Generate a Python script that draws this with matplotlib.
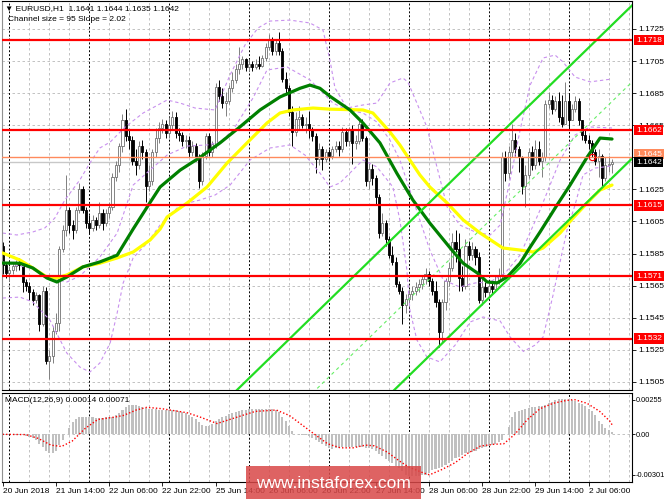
import matplotlib.pyplot as plt
import numpy as np
from matplotlib.patches import Rectangle

plt.rcParams['font.family'] = ['Liberation Sans', 'DejaVu Sans']

# EURUSD H1, 20 Jun 2018 22:00 .. 2 Jul 2018 13:00 (open = previous close)
first_open = 1.1590
close = [
    1.1578, 1.1573, 1.1575, 1.1577, 1.1579, 1.1578, 1.1567, 1.1565, 1.1561, 1.1556,
    1.1559, 1.1541, 1.1562, 1.1518, 1.1521, 1.1537, 1.1542, 1.1588, 1.1600, 1.1612,
    1.1603, 1.1600, 1.1612, 1.1625, 1.1612, 1.1604, 1.1601, 1.1606, 1.1603, 1.1610,
    1.1604, 1.1610, 1.1614, 1.1633, 1.1640, 1.1652, 1.1668, 1.1658, 1.1656, 1.1643,
    1.1640, 1.1652, 1.1648, 1.1627, 1.1630, 1.1648, 1.1657, 1.1663, 1.1666, 1.1660,
    1.1665, 1.1670, 1.1660, 1.1659, 1.1655, 1.1656, 1.1648, 1.1652, 1.1645, 1.1630,
    1.1646, 1.1658, 1.1648, 1.1653, 1.1689, 1.1683, 1.1679, 1.1680, 1.1688, 1.1693,
    1.1700, 1.1703, 1.1706, 1.1701, 1.1703, 1.1701, 1.1703, 1.1702, 1.1707, 1.1714,
    1.1718, 1.1711, 1.1716, 1.1711, 1.1694, 1.1688, 1.1673, 1.1661, 1.1669, 1.1670,
    1.1665, 1.1666, 1.1662, 1.1658, 1.1644, 1.1650, 1.1644, 1.1648, 1.1646, 1.1650,
    1.1652, 1.1650, 1.1661, 1.1655, 1.1662, 1.1654, 1.1655, 1.1666, 1.1657, 1.1630,
    1.1638, 1.1632, 1.1620, 1.1598, 1.1604, 1.1594, 1.1584, 1.1580, 1.1566, 1.1562,
    1.1553, 1.1557, 1.1560, 1.1562, 1.1564, 1.1566, 1.1569, 1.1572, 1.1568, 1.1562,
    1.1555, 1.1536, 1.1555, 1.1568, 1.1576, 1.1592, 1.1588, 1.1570, 1.1565, 1.1590,
    1.1584, 1.1588, 1.1583, 1.1556, 1.1564, 1.1561, 1.1565, 1.1563, 1.1568, 1.1571,
    1.1645, 1.1635, 1.1648, 1.1656, 1.1650, 1.1645, 1.1627, 1.1634, 1.1648, 1.1640,
    1.1650, 1.1643, 1.1645, 1.1678, 1.1681, 1.1675, 1.1680, 1.1670, 1.1666, 1.1680,
    1.1668, 1.1675, 1.1680, 1.1668, 1.1659, 1.1656, 1.1654, 1.1648, 1.1643, 1.1646,
    1.1632, 1.1640, 1.1641, 1.1642]
high = [
    1.1592, 1.1580, 1.1577, 1.1580, 1.1581, 1.1582, 1.1580, 1.1569, 1.1567, 1.1563,
    1.1561, 1.1560, 1.1565, 1.1564, 1.1525, 1.1540, 1.1548, 1.1590, 1.1603, 1.1634,
    1.1614, 1.1606, 1.1614, 1.1629, 1.1627, 1.1614, 1.1609, 1.1609, 1.1608, 1.1617,
    1.1613, 1.1613, 1.1617, 1.1635, 1.1643, 1.1654, 1.1672, 1.1675, 1.1662, 1.1658,
    1.1650, 1.1655, 1.1656, 1.1650, 1.1640, 1.1650, 1.1663, 1.1667, 1.1669, 1.1668,
    1.1670, 1.1674, 1.1673, 1.1663, 1.1661, 1.1659, 1.1658, 1.1655, 1.1654, 1.1647,
    1.1648, 1.1660, 1.1660, 1.1655, 1.1691, 1.1693, 1.1688, 1.1686, 1.1690, 1.1698,
    1.1703, 1.1714, 1.1708, 1.1707, 1.1706, 1.1705, 1.1706, 1.1708, 1.1709, 1.1716,
    1.1722, 1.1720, 1.1718, 1.1723, 1.1713, 1.1698, 1.1690, 1.1677, 1.1673, 1.1677,
    1.1672, 1.1670, 1.1674, 1.1664, 1.1660, 1.1654, 1.1652, 1.1650, 1.1650, 1.1652,
    1.1655, 1.1655, 1.1664, 1.1663, 1.1664, 1.1665, 1.1659, 1.1668, 1.1669, 1.1658,
    1.1642, 1.1641, 1.1634, 1.1622, 1.1610, 1.1606, 1.1596, 1.1590, 1.1583, 1.1568,
    1.1564, 1.1560, 1.1563, 1.1565, 1.1567, 1.1569, 1.1571, 1.1576, 1.1574, 1.1570,
    1.1568, 1.1557, 1.1557, 1.1570, 1.1580, 1.1598, 1.1600, 1.1598, 1.1577, 1.1594,
    1.1593, 1.1592, 1.1590, 1.1586, 1.1570, 1.1567, 1.1567, 1.1568, 1.1571, 1.1576,
    1.1648, 1.1649, 1.1652, 1.1666, 1.1660, 1.1652, 1.1646, 1.1640, 1.1651, 1.1652,
    1.1656, 1.1655, 1.1648, 1.1681, 1.1686, 1.1684, 1.1683, 1.1686, 1.1684, 1.1692,
    1.1685, 1.1678, 1.1683, 1.1682, 1.1668, 1.1662, 1.1659, 1.1656, 1.1650, 1.1650,
    1.1647, 1.1645, 1.1646, 1.1644]
low = [
    1.1572, 1.1570, 1.1568, 1.1572, 1.1574, 1.1575, 1.1561, 1.1562, 1.1556, 1.1553,
    1.1554, 1.1537, 1.1540, 1.1516, 1.1507, 1.1517, 1.1535, 1.1537, 1.1586, 1.1596,
    1.1598, 1.1594, 1.1598, 1.1610, 1.1610, 1.1601, 1.1598, 1.1599, 1.1600, 1.1601,
    1.1600, 1.1602, 1.1607, 1.1612, 1.1630, 1.1636, 1.1648, 1.1655, 1.1650, 1.1640,
    1.1634, 1.1638, 1.1644, 1.1617, 1.1624, 1.1628, 1.1645, 1.1654, 1.1660, 1.1657,
    1.1657, 1.1662, 1.1657, 1.1655, 1.1652, 1.1651, 1.1645, 1.1646, 1.1643, 1.1626,
    1.1628, 1.1644, 1.1646, 1.1645, 1.1651, 1.1680, 1.1676, 1.1671, 1.1678, 1.1686,
    1.1691, 1.1697, 1.1700, 1.1699, 1.1699, 1.1699, 1.1700, 1.1700, 1.1701, 1.1705,
    1.1712, 1.1709, 1.1709, 1.1709, 1.1692, 1.1684, 1.1671, 1.1652, 1.1658, 1.1662,
    1.1663, 1.1660, 1.1657, 1.1655, 1.1635, 1.1640, 1.1637, 1.1642, 1.1643, 1.1644,
    1.1648, 1.1646, 1.1648, 1.1652, 1.1652, 1.1641, 1.1650, 1.1653, 1.1655, 1.1627,
    1.1625, 1.1628, 1.1616, 1.1595, 1.1596, 1.1590, 1.1582, 1.1578, 1.1564, 1.1560,
    1.1541, 1.1548, 1.1552, 1.1556, 1.1559, 1.1561, 1.1563, 1.1566, 1.1565, 1.1559,
    1.1552, 1.1527, 1.1530, 1.1550, 1.1565, 1.1574, 1.1580, 1.1562, 1.1562, 1.1563,
    1.1581, 1.1581, 1.1578, 1.1554, 1.1553, 1.1558, 1.1558, 1.1560, 1.1561, 1.1566,
    1.1569, 1.1630, 1.1632, 1.1645, 1.1646, 1.1636, 1.1622, 1.1614, 1.1632, 1.1637,
    1.1638, 1.1640, 1.1633, 1.1643, 1.1676, 1.1672, 1.1674, 1.1667, 1.1664, 1.1666,
    1.1662, 1.1668, 1.1673, 1.1665, 1.1656, 1.1654, 1.1650, 1.1645, 1.1640, 1.1633,
    1.1627, 1.1630, 1.1636, 1.1635]

# MACD(12,26,9) histogram, in units of 1e-5
macd_hist_e5 = [
    -2, -2, -1, -1, -2, -3, -5, -10, -18, -30,
    -45, -70, -95, -125, -140, -142, -120, -80, -40, 0,
    50, 90, 115, 128, 130, 128, 126, 125, 124, 124,
    123, 125, 127, 130, 140, 160, 180, 205, 215, 218,
    216, 212, 205, 195, 190, 186, 184, 183, 182, 180,
    180, 181, 180, 176, 168, 155, 140, 125, 110, 90,
    70, 62, 65, 80, 100, 115, 128, 138, 148, 156,
    165, 172, 178, 182, 184, 185, 185, 186, 186, 186,
    185, 184, 180, 165, 130, 100, 60, 25, 5, -2,
    -5, -8, -15, -25, -40, -55, -75, -90, -100, -106,
    -104, -100, -96, -93, -92, -92, -92, -93, -95, -100,
    -105, -110, -125, -145, -160, -180, -200, -215, -235, -250,
    -275, -300, -312, -312, -310, -308, -304, -298, -285, -265,
    -255, -250, -240, -228, -215, -195, -178, -165, -155, -142,
    -135, -128, -120, -112, -100, -92, -86, -80, -72, -60,
    -40, 0, 57, 130, 165, 175, 180, 188, 195, 200,
    205, 210, 212, 220, 230, 240, 255, 260, 262, 262,
    260, 252, 245, 235, 222, 208, 190, 170, 140, 100,
    75, 50, 30, 14]
signal_idx = [0, 7, 10.7, 14.5, 17.7, 20.9, 24.8, 28.6, 33.7, 36.3, 40.1, 43.3, 47.8, 50.3,
              55.4, 59.3, 64.4, 68.2, 72, 75.9, 82.2, 86.1, 89.9, 93.7, 97.6, 101.4, 105.2,
              109, 111.6, 115.4, 119.3, 121.8, 125.7, 128.2, 132, 135.9, 139.7, 143.5, 147.4,
              150.5, 153.8, 157.6, 161.4, 165.3, 169.1, 171.6, 175.5, 179.3, 182.5, 183]
signal_e5 = [0, -2, -30, -80, -90, -50, 44, 110, 128, 140, 180, 200, 190, 180,
             160, 128, 80, 110, 140, 170, 180, 140, 70, 0, -70, -100, -100,
             -80, -85, -130, -200, -240, -280, -300, -260, -210, -140, -87, -74,
             -70, 0, 110, 190, 230, 250, 258, 230, 170, 94, 71]

# moving averages
green_idx = [0, 5.2, 9.1, 13.3, 16.3, 19.3, 24.1, 29.2, 34.4, 39.2, 43.4, 47.3, 53.3, 59.3,
             65.3, 71.3, 77.3, 83.3, 89.3, 92.3, 95.3, 98.3, 104.3, 108.2, 113.3, 118.4,
             123.2, 128.3, 134.4, 138.3, 142.5, 145.5, 148.5, 151.5, 155.4, 158.4, 161.4,
             166.5, 170.4, 175.5, 179.4, 183]
green_val = [1.15791, 1.1579, 1.1576, 1.15698, 1.15673, 1.15704, 1.15767, 1.15798, 1.1584,
             1.16003, 1.1614, 1.16265, 1.1637, 1.1645, 1.1654, 1.1664, 1.16745, 1.16826,
             1.1688, 1.1690, 1.1688, 1.1683, 1.16745, 1.16664, 1.1654, 1.1635, 1.16184,
             1.1604, 1.15885, 1.1579, 1.1573, 1.15673, 1.15667, 1.15704, 1.1579, 1.1589,
             1.15985, 1.16153, 1.16277, 1.1645, 1.1657, 1.16564]
yellow_idx = [0, 5.2, 9.1, 13.3, 16.3, 19.3, 24.1, 29.2, 34.4, 39.2, 44.3, 47.3, 49.4, 55.4,
              61.4, 67.4, 73.4, 79.4, 83.3, 87.2, 93.2, 98.3, 108.2, 111.2, 116.3, 119.3,
              122.3, 125.3, 128.3, 133.5, 138.3, 143.4, 150.2, 155.4, 159.3, 162.3, 167.4,
              171.3, 176.4, 179.4, 183]
yellow_val = [1.15854, 1.1581, 1.1576, 1.15704, 1.15698, 1.15717, 1.15767, 1.1579, 1.15823,
              1.1586, 1.15935, 1.16003, 1.16078, 1.16165, 1.16265, 1.16414, 1.1654, 1.16664,
              1.16726, 1.16745, 1.16757, 1.1675, 1.16745, 1.16726, 1.16608, 1.16527,
              1.16433, 1.1634, 1.16265, 1.16165, 1.1606, 1.15978, 1.15885, 1.15872, 1.1586,
              1.15885, 1.15978, 1.16072, 1.16184, 1.16246, 1.16277]

# Bollinger bands
bb_up_idx = [0, 4.3, 9.1, 12.7, 15.7, 18.7, 23.2, 26.2, 29.2, 32.3, 36.8, 42.2, 49.4, 53.3,
             57.8, 63.8, 68.3, 72.8, 76.7, 80.3, 86.3, 92.3, 96.2, 98.3, 99.8, 103.4, 108.2,
             112.4, 116.3, 120.2, 121.7, 124.4, 127.4, 129.9, 133.5, 137.3, 141.9, 146.4,
             149.4, 152.4, 155.4, 158.4, 162.3, 165.9, 168.3, 171.9, 176.4, 183]
bb_up_val = [1.15978, 1.15966, 1.15985, 1.1601, 1.16072, 1.16184, 1.16309, 1.16414, 1.16508,
             1.16545, 1.16639, 1.16726, 1.16807, 1.16788, 1.16757, 1.16745, 1.16963, 1.1715,
             1.17256, 1.17299, 1.17305, 1.17287, 1.17243, 1.17056, 1.16882, 1.16757,
             1.16776, 1.16788, 1.16913, 1.16944, 1.16919, 1.16788, 1.16639, 1.16433,
             1.1614, 1.16028, 1.15985, 1.15966, 1.16028, 1.16309, 1.1662, 1.1690, 1.17069,
             1.17087, 1.17044, 1.1695, 1.1692, 1.16938]
bb_mid_idx = [0, 8.2, 14.2, 19.3, 23.2, 29.2, 34.4, 39.2, 44.3, 49.4, 55.4, 61.4, 65.3, 69.2,
              75.2, 79.4, 85.4, 92.3, 95.3, 99.2, 103.4, 108.2, 112.4, 116.3, 119.3, 122.3,
              125.3, 128.3, 132.3, 137.3, 141.9, 146.4, 150.9, 155.4, 161.4, 167.4, 171.9,
              176.4, 183]
bb_mid_val = [1.15798, 1.1576, 1.15698, 1.15673, 1.1571, 1.15829, 1.15978, 1.16277, 1.16371,
              1.16464, 1.1652, 1.16527, 1.16545, 1.1662, 1.1682, 1.16994, 1.17013, 1.16932,
              1.1687, 1.16788, 1.16745, 1.16726, 1.1667, 1.16558, 1.16433, 1.16246, 1.16059,
              1.15872, 1.15686, 1.15642, 1.15667, 1.15673, 1.15729, 1.15841, 1.16122,
              1.16433, 1.16589, 1.16639, 1.16633]
bb_low_idx = [0, 5.2, 9.1, 14.2, 19.3, 23.2, 26.2, 29.2, 32.3, 34.4, 36.2, 39.2, 43.4, 47.3,
              53.3, 59.3, 63.8, 68.3, 74.3, 80.3, 86.3, 90.8, 95.3, 98.3, 101.3, 105.2,
              108.2, 112.4, 117.2, 119.3, 121.4, 122.3, 124.4, 127.4, 131.3, 135.9, 140.4,
              144.3, 149.4, 152.4, 156.4, 159.9, 162.3, 165.3, 167.4, 169.5, 171.9, 174.3,
              177.9, 183]
bb_low_val = [1.15573, 1.15579, 1.15548, 1.15436, 1.1523, 1.15143, 1.15112, 1.15168, 1.15293,
              1.1548, 1.15667, 1.15823, 1.15916, 1.16028, 1.16153, 1.16184, 1.16215, 1.16277,
              1.16433, 1.16508, 1.16527, 1.16464, 1.16352, 1.16265, 1.1629, 1.16371,
              1.16433, 1.1639, 1.16265, 1.16059, 1.15748, 1.15499, 1.15312, 1.15206,
              1.15175, 1.1528, 1.15424, 1.15455, 1.1543, 1.1533, 1.1524, 1.1528, 1.1533,
              1.15592, 1.15798, 1.15997, 1.16153, 1.1634, 1.16383, 1.16396]

# regression channel: "Channel size = 95 Slope = 2.02"
channel_end_idx = 183
channel_mid_end = 1.16798
channel_slope = 0.000202
channel_half = 0.00477

red_levels = [1.1718, 1.1662, 1.1615, 1.1571, 1.1532]
orange_level = 1.1645
bid_price = 1.1642
alert_idx, alert_price = 177, 1.1645

price_ticks = [1.1505, 1.1525, 1.1545, 1.1565, 1.1585, 1.1605, 1.1625, 1.1645,
               1.1665, 1.1685, 1.1705, 1.1725]
macd_ticks = [0.00255, 0.0, -0.00301]
macd_tick_labels = ['0.00255', '0.00', '-0.00301']
date_idx = [0, 16, 32, 48, 64, 80, 96, 112, 128, 144, 160, 176]
date_labels = ['20 Jun 2018', '21 Jun 14:00', '22 Jun 06:00', '22 Jun 22:00',
               '25 Jun 14:00', '26 Jun 06:00', '26 Jun 22:00', '27 Jun 14:00',
               '28 Jun 06:00', '28 Jun 22:00', '29 Jun 14:00', '2 Jul 06:00']
day_idx = [2, 26, 50, 74, 98, 122, 146, 170]

W, H = 665, 499
fig = plt.figure(figsize=(W / 100, H / 100), dpi=100)
fig.patch.set_facecolor('white')
ax = fig.add_axes([2 / W, 109 / H, 630 / W, 389 / H])
ax2 = fig.add_axes([2 / W, 17.3 / H, 630 / W, 88.4 / H])

c = np.array(close)
o = np.r_[first_open, c[:-1]]
h = np.array(high)
l = np.array(low)
x = np.arange(len(c))
up = c >= o

xlim = (-0.18, 189.0)
for a in (ax, ax2):
    a.set_xlim(*xlim)
    for gi in range(2, 189, 6):
        if gi in day_idx:
            a.axvline(gi, color='black', lw=0.7, ls=(0, (2, 2)), zorder=0.6)
        else:
            a.axvline(gi, color='#b8b8b8', lw=0.6, ls=(0, (3, 3)), zorder=0.5)
    for s in a.spines.values():
        s.set_linewidth(0.8)
        s.set_color('black')
    a.spines['left'].set_color('#909090')

ax.set_ylim(1.15000, 1.17424)
for p in price_ticks:
    ax.axhline(p, color='#b8b8b8', lw=0.6, ls=(0, (3, 3)), zorder=0.5)

# candles
ax.vlines(x[up], l[up], h[up], color='#808080', lw=0.7, zorder=2)
ax.vlines(x[~up], l[~up], h[~up], color='black', lw=0.7, zorder=2)
body_lo = np.minimum(o, c)
body_h = np.maximum(np.abs(c - o), 0.00004)
ax.bar(x[up], body_h[up], bottom=body_lo[up], width=0.62, color='white',
       edgecolor='#707070', lw=0.6, zorder=2.1)
ax.bar(x[~up], body_h[~up], bottom=body_lo[~up], width=0.62, color='black',
       edgecolor='black', lw=0.6, zorder=2.1)

# bollinger bands
bb_kw = dict(color='#c890ee', lw=0.8, ls=(0, (3, 2.5)), zorder=2.5)
ax.plot(bb_up_idx, bb_up_val, **bb_kw)
ax.plot(bb_mid_idx, bb_mid_val, **bb_kw)
ax.plot(bb_low_idx, bb_low_val, **bb_kw)

# moving averages
ax.plot(yellow_idx, yellow_val, color='#ffff00', lw=2.3, zorder=3, solid_capstyle='round')
ax.plot(green_idx, green_val, color='#008000', lw=2.3, zorder=3.1, solid_capstyle='round')

# regression channel
cx = np.array([xlim[0], xlim[1]])
mid = channel_mid_end + channel_slope * (cx - channel_end_idx)
ax.plot(cx, mid + channel_half, color='#22dd22', lw=1.6, zorder=3.2)
ax.plot(cx, mid - channel_half, color='#22dd22', lw=1.6, zorder=3.2)
ax.plot(cx, mid, color='#66ee66', lw=0.8, ls=(0, (3, 3)), zorder=3.2)

# horizontal levels
ax.axhline(bid_price, color='#c8c8c8', lw=1.0, zorder=1.5)
ax.axhline(orange_level, color='#ff8a5c', lw=1.0, zorder=3.5)
for lv in red_levels:
    ax.axhline(lv, color='#ff0000', lw=1.6, zorder=3.6)
ax.plot(alert_idx, alert_price, 'o', mfc='none', mec='red', ms=4.5, mew=0.8, zorder=3.7)

# right price scale; the 1.1645 grid label sits under the orange level box
ax.yaxis.tick_right()
ax.set_yticks(price_ticks)
ax.set_yticklabels(['' if abs(p - orange_level) < 1e-6 else f'{p:.4f}' for p in price_ticks])
ax.tick_params(axis='y', length=3, width=0.6, labelsize=6, pad=1.5)
ax.set_xticks([])

ytr = ax.get_yaxis_transform()
box = dict(boxstyle='square,pad=0.2', lw=0)
for lv in red_levels:
    ax.text(1.0063, lv, f'{lv:.4f}', transform=ytr, va='center', ha='left', fontsize=6,
            color='white', bbox=dict(box, fc='#ff0000'), zorder=10, clip_on=False)
ax.text(1.0063, orange_level + 0.0002, f'{orange_level:.4f}', transform=ytr, va='center',
        ha='left', fontsize=6, color='white', bbox=dict(box, fc='#ff8a5c'), zorder=10,
        clip_on=False)
ax.text(1.0063, bid_price, f'{bid_price:.4f}', transform=ytr, va='center', ha='left',
        fontsize=6, color='white', bbox=dict(box, fc='black'), zorder=11, clip_on=False)

# MACD panel
hist = np.array(macd_hist_e5) * 1e-5
ax2.set_ylim(-0.00351, 0.00304)
ax2.axhline(0, color='#b8b8b8', lw=0.6, ls=(0, (3, 3)), zorder=0.5)
ax2.bar(x, hist, width=0.62, color='#c0c0c0', zorder=1)
ax2.plot(signal_idx, np.array(signal_e5) * 1e-5, color='#ff0000', lw=1.0,
         ls=(0, (1, 1.5)), zorder=2)
ax2.yaxis.tick_right()
ax2.set_yticks(macd_ticks)
ax2.set_yticklabels(macd_tick_labels)
ax2.tick_params(axis='y', length=2, width=0.6, labelsize=5.3, pad=0.8)
ax2.set_xticks(date_idx)
ax2.set_xticklabels(date_labels, ha='left')
ax2.tick_params(axis='x', length=3, width=0.6, labelsize=6, pad=1.5)

fig.text(5 / W, 1 - 8.5 / H, '\u25bc EURUSD,H1  1.1641 1.1644 1.1635 1.1642', fontsize=6,
         va='center', ha='left')
fig.text(8 / W, 1 - 19.5 / H, 'Channel size = 95 Slope = 2.02', fontsize=6, va='center',
         ha='left')
fig.text(5 / W, 1 - 400 / H, 'MACD(12,26,9) 0.00014 0.00071', fontsize=6, va='center',
         ha='left')

fig.add_artist(Rectangle((246 / W, 0), 175 / W, 33 / H, transform=fig.transFigure,
                         facecolor='#d94848', edgecolor='none', alpha=0.85, zorder=20))
fig.text(333 / W, 16 / H, 'www.instaforex.com', color='white', fontsize=12.5,
         ha='center', va='center', zorder=21)

fig.savefig('out.png', dpi=100, facecolor='white')
